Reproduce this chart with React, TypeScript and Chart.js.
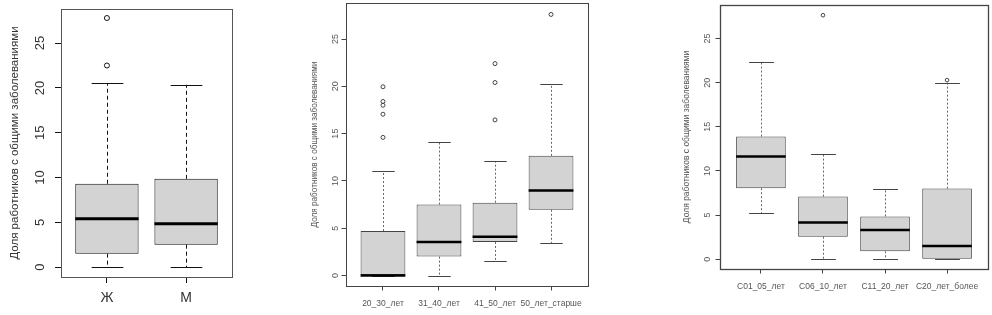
import React, { useEffect, useRef } from "react";
import { Chart, registerables } from "chart.js";
Chart.register(...registerables);

// ---------- data ----------
const axisTitle = "Доля работников с общими заболеваниями";
const yTickValues = [0, 5, 10, 15, 20, 25];
const yMin = -1.108;
const yMax = 28.808;

// by sex
const sexCategories = ["Ж", "М"];
const sexLower = [0, 0];
const sexQ1 = [1.5, 2.5];
const sexMedian = [5.4, 4.85];
const sexQ3 = [9.3, 9.85];
const sexUpper = [20.5, 20.35];
const sexOutliers = [[22.5, 27.8], []];

// by age
const ageCategories = ["20_30_лет", "31_40_лет", "41_50_лет", "50_лет_старше"];
const ageLower = [0, 0, 1.55, 3.45];
const ageQ1 = [0, 2.0, 3.55, 6.95];
const ageMedian = [0, 3.55, 4.1, 9.0];
const ageQ3 = [4.7, 7.5, 7.7, 12.65];
const ageUpper = [11.0, 14.1, 12.1, 20.2];
const ageOutliers = [[14.6, 17.05, 18.0, 18.4, 19.95], [], [16.45, 20.4, 22.4], [27.6]];

// by work experience
const expCategories = ["C01_05_лет", "C06_10_лет", "C11_20_лет", "C20_лет_более"];
const expLower = [5.2, 0, 0, 0];
const expQ1 = [8.05, 2.55, 0.9, 0];
const expMedian = [11.65, 4.15, 3.3, 1.5];
const expQ3 = [13.9, 7.1, 4.85, 8.0];
const expUpper = [22.35, 11.95, 7.95, 20.0];
const expOutliers = [[], [27.65], [], [20.3]];

// ---------- layout / styles ----------
const FONT = "'Liberation Sans', Arial, Helvetica, sans-serif";

type Stats = {
  cats: string[];
  lower: number[];
  q1: number[];
  med: number[];
  q3: number[];
  upper: number[];
  out: number[][];
};

type Look = {
  left: number;
  width: number;
  padTop: number;
  yAxisW: number;
  padRight: number;
  xAxisH: number;
  tickFont: number;
  catFont: number;
  titleFont: number;
  tickLen: number;
  yTickPad: number;
  xTickPad: number;
  titlePad: number;
  line: string;
  text: string;
  medW: number;
  dash: number[];
  whisker: string;
  frame: string;
  frameW: number;
  ptR: number;
};

const panels: { stats: Stats; look: Look }[] = [
  {
    stats: { cats: sexCategories, lower: sexLower, q1: sexQ1, med: sexMedian, q3: sexQ3, upper: sexUpper, out: sexOutliers },
    look: {
      left: 0, width: 240, padTop: 9, yAxisW: 61, padRight: 8, xAxisH: 38,
      tickFont: 13, catFont: 14, titleFont: 11.5, tickLen: 6, yTickPad: 7, xTickPad: 7, titlePad: 7.6,
      line: "#111", text: "#333", medW: 3, dash: [4, 3], whisker: "#111", frame: "#555", frameW: 1, ptR: 2.5,
    },
  },
  {
    stats: { cats: ageCategories, lower: ageLower, q1: ageQ1, med: ageMedian, q3: ageQ3, upper: ageUpper, out: ageOutliers },
    look: {
      left: 300, width: 300, padTop: 3, yAxisW: 46, padRight: 12, xAxisH: 29,
      tickFont: 9, catFont: 8.5, titleFont: 8.2, tickLen: 4.5, yTickPad: 1, xTickPad: 8, titlePad: 10,
      line: "#444", text: "#555", medW: 2.5, dash: [2, 2], whisker: "#666", frame: "#444", frameW: 1, ptR: 2,
    },
  },
  {
    stats: { cats: expCategories, lower: expLower, q1: expQ1, med: expMedian, q3: expQ3, upper: expUpper, out: expOutliers },
    look: {
      left: 660, width: 332, padTop: 5, yAxisW: 60, padRight: 4, xAxisH: 46,
      tickFont: 9, catFont: 8.5, titleFont: 8.5, tickLen: 4.5, yTickPad: 3, xTickPad: 8, titlePad: 21.6,
      line: "#444", text: "#555", medW: 2.5, dash: [2, 2], whisker: "#666", frame: "#444", frameW: 1.3, ptR: 1.8,
    },
  },
];

const boxPlugin = {
  id: "rbox",
  beforeDatasetsDraw(chart: any, _args: any, opts: any) {
    const { ctx, scales } = chart;
    const x = scales.x, y = scales.y;
    const s: Stats = opts.stats;
    const look: Look = opts.look;
    ctx.save();
    ctx.lineWidth = 1;
    s.cats.forEach((_c, i) => {
      const cx = Math.round(x.getPixelForValue(i + 1)) + 0.5;
      const half = x.getPixelForValue(i + 1.4) - x.getPixelForValue(i + 1);
      const capHalf = half / 2;
      // whiskers (dashed)
      ctx.strokeStyle = look.whisker;
      ctx.setLineDash(look.dash);
      ctx.beginPath();
      ctx.moveTo(cx, y.getPixelForValue(s.q3[i]));
      ctx.lineTo(cx, y.getPixelForValue(s.upper[i]));
      ctx.moveTo(cx, y.getPixelForValue(s.q1[i]));
      ctx.lineTo(cx, y.getPixelForValue(s.lower[i]));
      ctx.stroke();
      // caps
      ctx.setLineDash([]);
      ctx.strokeStyle = look.line;
      ctx.beginPath();
      const yu = Math.round(y.getPixelForValue(s.upper[i])) + 0.5;
      const yl = Math.round(y.getPixelForValue(s.lower[i])) + 0.5;
      ctx.moveTo(cx - capHalf, yu);
      ctx.lineTo(cx + capHalf, yu);
      ctx.moveTo(cx - capHalf, yl);
      ctx.lineTo(cx + capHalf, yl);
      ctx.stroke();
    });
    ctx.restore();
  },
  afterDatasetsDraw(chart: any, _args: any, opts: any) {
    const { ctx, scales, chartArea } = chart;
    const x = scales.x, y = scales.y;
    const s: Stats = opts.stats;
    const look: Look = opts.look;
    ctx.save();
    // medians
    ctx.strokeStyle = "#000";
    ctx.lineWidth = look.medW;
    ctx.lineCap = "butt";
    s.cats.forEach((_c, i) => {
      const l = x.getPixelForValue(i + 1 - 0.4);
      const r = x.getPixelForValue(i + 1 + 0.4);
      const ym = y.getPixelForValue(s.med[i]);
      ctx.beginPath();
      ctx.moveTo(l, ym);
      ctx.lineTo(r, ym);
      ctx.stroke();
    });
    // frame
    ctx.strokeStyle = look.frame;
    ctx.lineWidth = look.frameW;
    ctx.strokeRect(
      Math.round(chartArea.left) + 0.5,
      Math.round(chartArea.top) + 0.5,
      Math.round(chartArea.right - chartArea.left),
      Math.round(chartArea.bottom - chartArea.top)
    );
    ctx.restore();
  },
};

function BoxPanel({ stats, look }: { stats: Stats; look: Look }) {
  const ref = useRef<HTMLCanvasElement>(null);
  useEffect(() => {
    const n = stats.cats.length;
    const xMin = 0.5 - 0.04 * n;
    const xMax = n + 0.5 + 0.04 * n;
    const boxes = stats.cats.map((_c, i) => ({ x: i + 1, y: [stats.q1[i], stats.q3[i]] }));
    const outliers: { x: number; y: number }[] = [];
    stats.out.forEach((arr, i) => arr.forEach((v) => outliers.push({ x: i + 1, y: v })));
    const chart = new Chart(ref.current as HTMLCanvasElement, {
      type: "bar",
      data: {
        datasets: [
          {
            type: "bar",
            data: boxes as any,
            backgroundColor: "#d3d3d3",
            borderColor: look.line,
            borderWidth: 1,
            borderSkipped: false,
            barPercentage: 0.8,
            categoryPercentage: 1,
          } as any,
          {
            type: "scatter",
            data: outliers,
            pointRadius: look.ptR,
            pointStyle: "circle",
            pointBackgroundColor: "rgba(0,0,0,0)",
            pointBorderColor: look.line,
            pointBorderWidth: 1,
          } as any,
        ],
      },
      options: {
        responsive: false,
        animation: false,
        devicePixelRatio: 1,
        layout: { autoPadding: false, padding: { left: 0, top: look.padTop, right: look.padRight, bottom: 0 } },
        plugins: {
          legend: { display: false },
          tooltip: { enabled: false },
          rbox: { stats, look },
        } as any,
        scales: {
          x: {
            type: "linear",
            min: xMin,
            max: xMax,
            bounds: "data",
            offset: false,
            afterBuildTicks: (s: any) => {
              s.ticks = stats.cats.map((_c, i) => ({ value: i + 1 }));
            },
            afterFit: (s: any) => {
              s.height = look.xAxisH;
              s.paddingLeft = 0;
              s.paddingRight = 0;
            },
            grid: {
              display: true,
              drawOnChartArea: false,
              drawTicks: true,
              tickLength: look.tickLen,
              color: look.line,
              offset: false,
            },
            border: { display: false },
            ticks: {
              autoSkip: false,
              maxRotation: 0,
              minRotation: 0,
              padding: look.xTickPad,
              color: look.text,
              font: { family: FONT, size: look.catFont },
              callback: (v: any) => stats.cats[Math.round(Number(v)) - 1] ?? "",
            },
          },
          y: {
            type: "linear",
            min: yMin,
            max: yMax,
            bounds: "data",
            afterBuildTicks: (s: any) => {
              s.ticks = yTickValues.map((v) => ({ value: v }));
            },
            afterFit: (s: any) => {
              s.width = look.yAxisW;
              s.paddingTop = 0;
              s.paddingBottom = 0;
            },
            grid: {
              display: true,
              drawOnChartArea: false,
              drawTicks: true,
              tickLength: look.tickLen,
              color: look.line,
            },
            border: { display: false },
            ticks: {
              minRotation: 90,
              maxRotation: 90,
              crossAlign: "center",
              padding: look.yTickPad,
              color: look.text,
              font: { family: FONT, size: look.tickFont },
            },
            title: {
              display: true,
              text: axisTitle,
              color: look.text,
              font: { family: FONT, size: look.titleFont },
              padding: { top: look.titlePad, bottom: 0 },
            },
          },
        },
      } as any,
      plugins: [boxPlugin as any],
    });
    return () => chart.destroy();
  }, []);
  return (
    <canvas
      ref={ref}
      width={look.width}
      height={315}
      style={{ position: "absolute", left: look.left, top: 0, width: look.width, height: 315 }}
    />
  );
}

export default function App() {
  return (
    <div style={{ position: "absolute", left: 0, top: 0, width: 992, height: 315, background: "#fff", overflow: "hidden" }}>
      {panels.map((p, i) => (
        <BoxPanel key={i} stats={p.stats} look={p.look} />
      ))}
    </div>
  );
}
